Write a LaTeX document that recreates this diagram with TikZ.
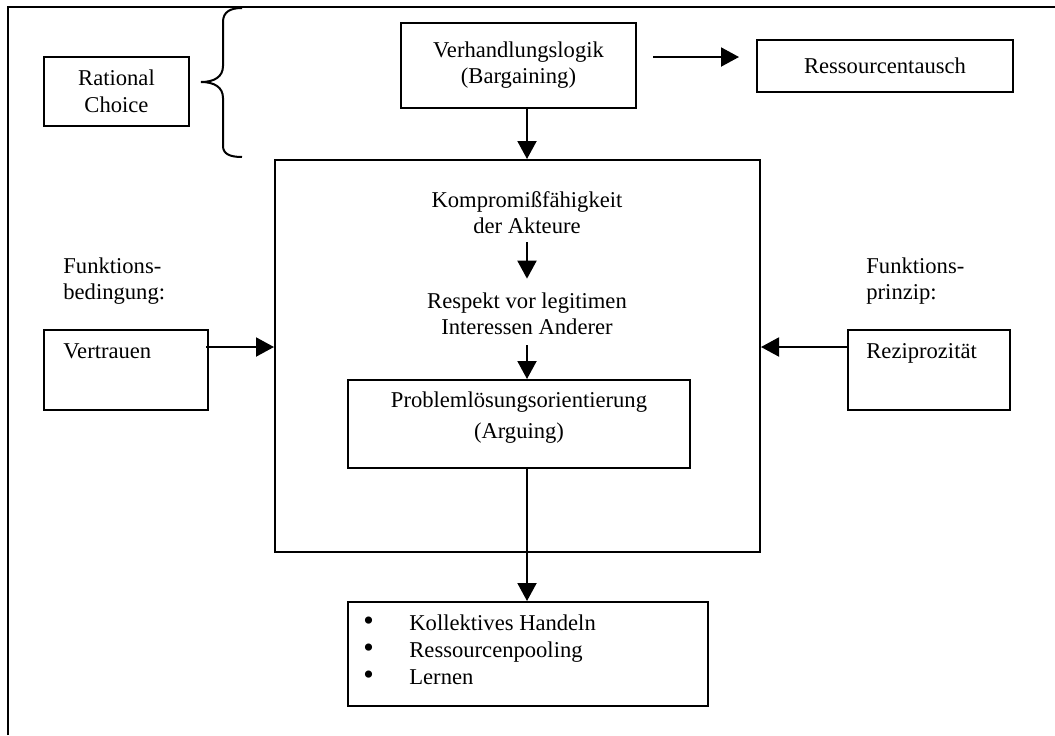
\documentclass[tikz,border=0pt]{standalone}
\usepackage{fontspec}
\setmainfont{Liberation Serif}
\usetikzlibrary{arrows.meta}

\newcommand{\punkt}{\makebox[23pt][l]{\fontsize{15}{13}\selectfont\textbullet}}

\begin{document}
\begin{tikzpicture}[x=0.5pt, y=-0.5pt,
    box/.style={rectangle, draw=black, line width=1pt, inner sep=0pt, align=center},
    txt/.style={inner sep=0pt, align=center},
    arrow/.style={-{Triangle[length=9pt, width=9.5pt]}, line width=1pt},
    frame/.style={line width=1pt},
    font=\fontsize{11.3}{13}\selectfont
]

\useasboundingbox (0,0) rectangle (1055,735);

% Rahmen
\draw[frame] (8,735) -- (8,7) -- (1055,7);

% Rational Choice mit Klammer
\node[box, minimum width=72.5pt, minimum height=34.5pt] (rational) at (116.5,91.5) {Rational\\[0.5pt]Choice};
\draw[frame] (242,8) .. controls (230,8) and (223,12) .. (223,22) -- (223,66)
    .. controls (223,77) and (214,82) .. (201,82)
    .. controls (214,82) and (223,87) .. (223,98) -- (223,146)
    .. controls (223,154) and (230,157) .. (242,157);

% Obere Reihe
\node[box, minimum width=117.5pt, minimum height=42.5pt] (verhandlung) at (518.5,65.5) {Verhandlungslogik\\(Bargaining)};
\node[box, minimum width=128pt, minimum height=26pt] (tausch) at (885,66) {Ressourcentausch};

\draw[arrow] ([shift={(8pt,4.25pt)}]verhandlung.east) -- ([shift={(-8.5pt,4.5pt)}]tausch.west);

% Hauptkasten
\node[box, minimum width=242.5pt, minimum height=196pt] (haupt) at (517.5,356) {};
\node[txt] (kompromiss) at (527,213) {Kompromißfähigkeit\\der Akteure};
\node[txt] (respekt) at (527,314) {Respekt vor legitimen\\Interessen Anderer};
\node[box, minimum width=171pt, minimum height=44pt] (problem) at (519,424) {};
\node[txt] (problemtext) at (519,418) {Problemlösungsorientierung\\[2.5pt](Arguing)};

\draw[arrow] (verhandlung.south -| kompromiss.south) -- (haupt.north -| kompromiss.south);
\draw[arrow, shorten <=4pt, shorten >=7pt] (kompromiss.south) -- (respekt.north);
\draw[arrow, shorten <=5pt] (respekt.south) -- (respekt.south |- problem.north);

% Seiten
\node[txt, align=left, anchor=west] (bedingung) at (63,281.5) {Funktions-\\bedingung:};
\node[box, minimum width=82pt, minimum height=40pt] (vertrauen) at (126,370) {};
\node[txt, anchor=base west] (vertrauentext) at (63,358) {Vertrauen};

\node[txt, align=left, anchor=west] (prinzip) at (866,281.5) {Funktions-\\prinzip:};
\node[box, minimum width=81pt, minimum height=40pt] (rezi) at (929,370) {};
\node[txt, anchor=base west] (rezitext) at (866,358) {Reziprozität};

\draw[arrow] ([shift={(-1.5pt,11.5pt)}]vertrauen.east) -- ([yshift=11.5pt]vertrauen.east -| haupt.west);
\draw[arrow] ([yshift=11.5pt]rezi.west) -- ([yshift=11.5pt]rezi.west -| haupt.east);

% Ergebnisse
\node[box, minimum width=180pt, minimum height=52pt] (ergebnis) at (528,654) {};
\node[txt, align=left, anchor=west] (liste) at (363,649.5) {%
    \punkt Kollektives Handeln\\[0.5pt]
    \punkt Ressourcenpooling\\[0.5pt]
    \punkt Lernen};

\draw[arrow] (problem.south -| respekt.south) -- (ergebnis.north -| respekt.south);

\end{tikzpicture}
\end{document}
